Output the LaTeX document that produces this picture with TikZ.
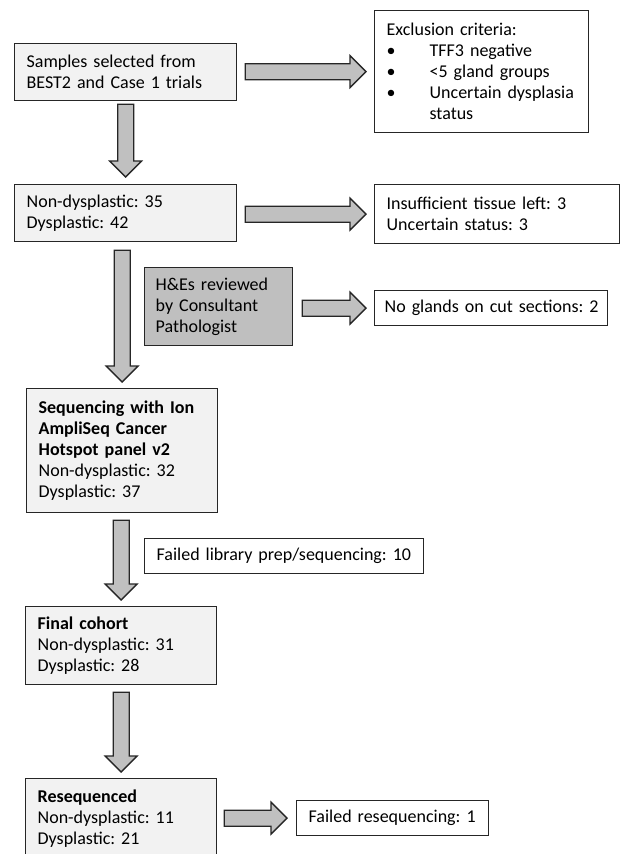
\documentclass[tikz,border=0pt]{standalone}
\usepackage{fontspec}
\setmainfont{Carlito}
\usetikzlibrary{calc}

\definecolor{boxfill}{HTML}{F2F2F2}
\definecolor{darkfill}{HTML}{BFBFBF}
\definecolor{arrowfill}{HTML}{C0C0C0}

% block arrows between two boxes
\newcommand{\rightblock}[2]{%
  \draw[blockarrow] let \p1=(#1), \p2=(#2) in
    (\x1,\y2+8pt) -- (\x2-16pt,\y2+8pt) -- (\x2-16pt,\y2+16pt) -- (\x2,\y2)
    -- (\x2-16pt,\y2-16pt) -- (\x2-16pt,\y2-8pt) -- (\x1,\y2-8pt) -- cycle;}
\newcommand{\downblock}[2]{%
  \draw[blockarrow] let \p1=(#1), \p2=(#2) in
    (\x2-8pt,\y1) -- (\x2-8pt,\y2+16pt) -- (\x2-16pt,\y2+16pt) -- (\x2,\y2)
    -- (\x2+16pt,\y2+16pt) -- (\x2+8pt,\y2+16pt) -- (\x2+8pt,\y1) -- cycle;}

\begin{document}
\begin{tikzpicture}[
  x=1pt, y=-1pt,
  box/.style={draw=black!85, line width=1.3pt, fill=boxfill, anchor=north west,
    inner xsep=12pt, inner ysep=0pt, align=left,
    font=\fontsize{18}{21}\selectfont\frenchspacing},
  darkbox/.style={box, fill=darkfill},
  blockarrow/.style={draw=black!85, line width=1.3pt, fill=arrowfill, line join=miter}
]
\fill[white] (0,0) rectangle (621,854);
\useasboundingbox (0,0) rectangle (621,854);

\node[box, text width=198pt, minimum height=57pt] (samp) at (14,43)
  {Samples selected from\\BEST2 and Case 1 trials};
\node[box, fill=white, text width=190pt, minimum height=122pt] (excl) at (374,10)
  {Exclusion criteria:\\
   \makebox[43pt][l]{\textbullet}TFF3 negative\\
   \makebox[43pt][l]{\textbullet}<5 gland groups\\
   \makebox[43pt][l]{\textbullet}Uncertain dysplasia\\
   \hspace*{43pt}status};
\node[box, text width=198pt, minimum height=57pt] (nd1) at (14,184)
  {Non-dysplastic: 35\\Dysplastic: 42};
\node[box, fill=white, text width=221pt, minimum height=59pt] (insuf) at (374,184)
  {Insufficient tissue left: 3\\Uncertain status: 3};
\node[darkbox, inner xsep=11pt, text width=126pt, minimum height=78pt] (he) at (144,267)
  {H\&Es reviewed\\by Consultant\\Pathologist};
\node[box, fill=white, inner xsep=10pt, text width=213pt, minimum height=35pt] (glands) at (374,290)
  {\mbox{No glands on cut sections: 2}};
\node[box, text width=167pt, minimum height=124pt] (seq) at (26,388)
  {\textbf{Sequencing with Ion}\\\textbf{AmpliSeq Cancer}\\\textbf{Hotspot panel v2}\\
   Non-dysplastic: 32\\Dysplastic: 37};
\node[box, fill=white, text width=255pt, minimum height=35pt] (libfail) at (144,538)
  {Failed library prep/sequencing: 10};
\node[box, text width=167pt, minimum height=78pt] (final) at (25,606)
  {\textbf{Final cohort}\\Non-dysplastic: 31\\Dysplastic: 28};
\node[box, text width=167pt, minimum height=80pt] (reseq) at (25,778)
  {\textbf{Resequenced}\\Non-dysplastic: 11\\Dysplastic: 21};
\node[box, fill=white, text width=168pt, minimum height=35pt] (reseqfail) at (296,800)
  {Failed resequencing: 1};

\rightblock{$(samp.east)+(8,0)$}{$(excl.west)+(-8,0)$}
\rightblock{$(nd1.east)+(8,0)$}{$(insuf.west)+(-8,0)$}
\rightblock{$(he.east)+(9,0)$}{$(glands.west)+(-8,0)$}
\rightblock{$(reseq.east)+(7,0)$}{$(reseqfail.west)+(-9,0)$}
\downblock{$(samp.south)+(0,3)$}{$(nd1.north)+(0,-7)$}
\downblock{$(nd1.south)+(0,8)$}{$(seq.north)+(0,-6)$}
\downblock{$(seq.south)+(0,7)$}{$(final.north)+(0,-6)$}
\downblock{$(final.south)+(0,7)$}{$(reseq.north)+(0,-6)$}
\end{tikzpicture}
\end{document}
